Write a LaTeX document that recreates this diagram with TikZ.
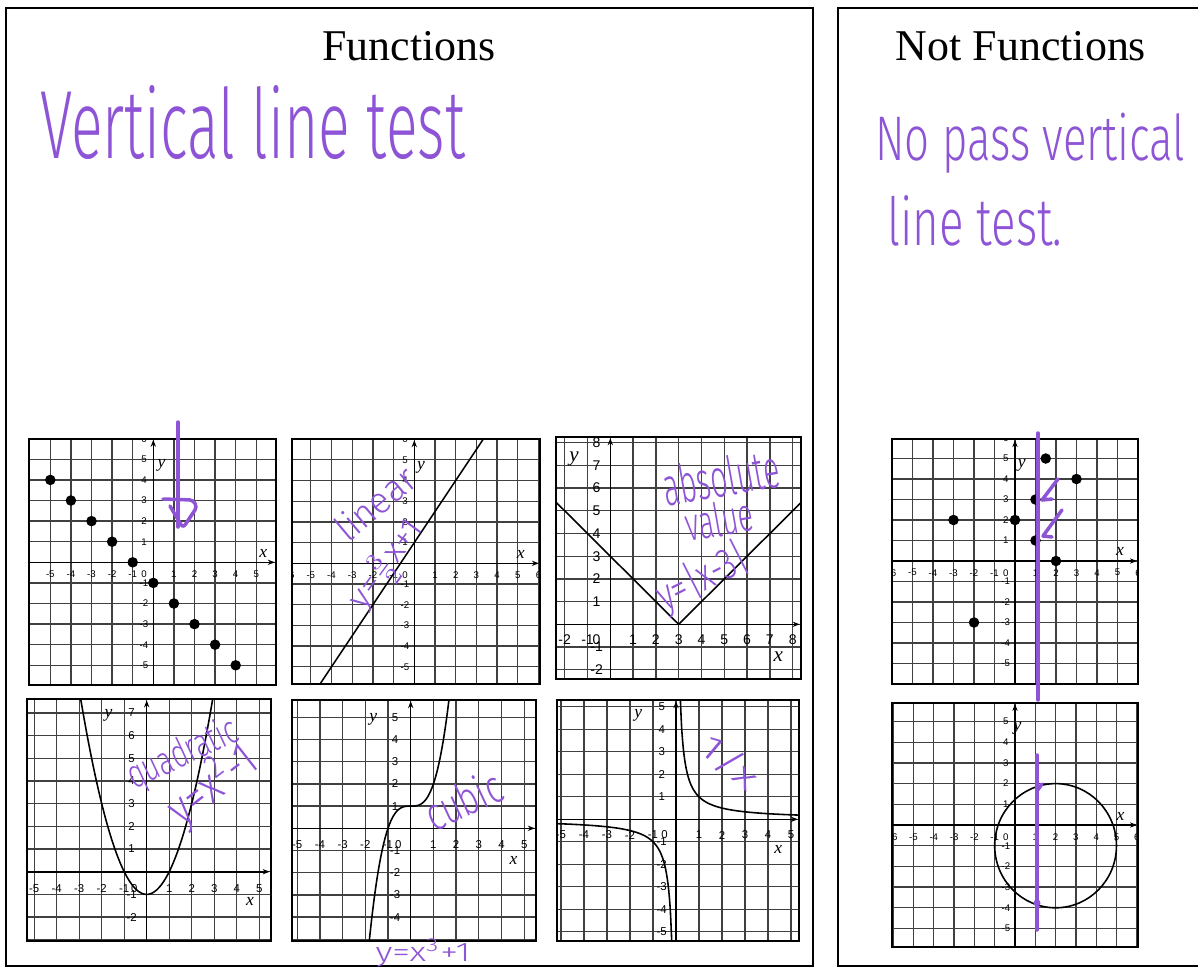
\documentclass[tikz,border=0pt]{standalone}
\usepackage{fontspec}
\usepackage{graphicx}
\setmainfont{Liberation Serif}
\newfontfamily\handfont{Fira Sans Light}
\newfontfamily\tickfont{Liberation Sans}
\usetikzlibrary{arrows.meta}
\definecolor{pen}{RGB}{142,84,214}

% grid of one graph, inside a scope so the clip stays local
\newcommand{\gridpart}[4]{%
  \clip (#1,#3) rectangle (#2,#4);
  \foreach \g in {-9,...,9} {
    \draw[gridline] (\g,#3) -- (\g,#4);
    \draw[gridline] (#1,\g) -- (#2,\g);
  }
}
% axes and frame of one graph
\newcommand{\framepart}[4]{%
  \draw[axisline] (#1,0) -- ({#2-0.05},0);
  \draw[axisline] (0,#3) -- (0,{#4-0.05});
  \draw[frame] (#1,#3) rectangle (#2,#4);
}

\begin{document}
\begin{tikzpicture}[
    x=0.02cm, y=-0.02cm,
    panel/.style={line width=0.9pt},
    frame/.style={line width=1pt},
    gridline/.style={black!75, line width=0.75pt},
    axisline/.style={-{Stealth[length=4pt]}, line width=0.9pt},
    curve/.style={line width=0.9pt},
    dot/.style={circle, fill=black, inner sep=0pt, minimum size=6pt},
    tick/.style={font=\tickfont\fontsize{5.5}{6}\selectfont, inner sep=0pt},
    midtick/.style={font=\tickfont\fontsize{6.5}{7}\selectfont, inner sep=0pt},
    bigtick/.style={font=\tickfont\fontsize{8}{9}\selectfont, inner sep=0pt},
    axlab/.style={font=\itshape\fontsize{10}{11}\selectfont, inner sep=0pt},
    bigaxlab/.style={font=\itshape\fontsize{12}{13}\selectfont, inner sep=0pt},
    title/.style={font=\fontsize{25}{28}\selectfont, anchor=base, inner sep=0pt},
    hand/.style={text=pen, font=\handfont, inner sep=0pt},
    ink/.style={pen, line width=2pt, line cap=round, line join=round}
]
\useasboundingbox (0,0) rectangle (1198,968);

% the two panels
\draw[panel] (6,8) rectangle (813,966);
\draw[panel] (1198,8) -- (838,8) -- (838,966) -- (1198,966);

\node[title] (functions) at (409,60) {Functions};
\node[title] (notfunctions) at (1021,60) {Not Functions};

% handwritten notes
\node[hand, anchor=base west] (vlt) at (40,158) {\resizebox{8.5cm}{1.46cm}{Vertical line test}};
\node[hand, anchor=base west] (nopass) at (875,160) {\resizebox{6.2cm}{0.95cm}{No pass vertical}};
\node[hand, anchor=base west] (linetest) at (887,245) {\resizebox{3.5cm}{1cm}{line test.}};

% graph 1: points on y=-x-1
\begin{scope}[shift={(153.3,562.3)}, x=0.412cm, y=0.412cm]
  \begin{scope}
    \gridpart{-6.05}{5.95}{-5.95}{6}
    \foreach \i in {-5,-4,-3,-2,-1,1,2,3,4,5} \node[tick] (gax\i) at (\i,-0.57) {\i};
    \foreach \j in {-5,-4,-3,-2,-1,1,2,3,4,5,6} \node[tick] (gay\j) at (-0.45,\j) {\j};
    \node[tick] (gaz) at (-0.45,-0.57) {0};
  \end{scope}
  \framepart{-6.05}{5.95}{-5.95}{6}
  \node[axlab] (gaxl) at (5.34,0.44) {x};
  \node[axlab] (gayl) at (0.4,4.72) {y};
  \foreach \px [count=\k] in {-5,...,4} \node[dot] (gadot\k) at (\px,{-\px-1}) {};
\end{scope}
\draw[ink] (178,422) -- (178,527);
\draw[ink, rounded corners=2pt] (163,499) -- (193,500) -- (197,507) -- (183,528) -- (170,506);

% graph 2: linear
\begin{scope}[shift={(414.3,563.3)}, x=0.414cm, y=0.414cm]
  \begin{scope}
    \gridpart{-5.9}{6.07}{-5.83}{6}
    \foreach \i in {-6,-5,-4,-3,-2,-1,1,2,3,4,5,6} \node[tick] (gbx\i) at (\i,-0.57) {\i};
    \foreach \j in {-5,-4,-3,-2,-1,1,2,3,4,5,6} \node[tick] (gby\j) at (-0.45,\j) {\j};
    \node[tick] (gbz) at (-0.45,-0.57) {0};
    \draw[curve] (-4.667,-6) -- (3.333,6);
  \end{scope}
  \framepart{-5.9}{6.07}{-5.83}{6}
  \node[axlab] (gbxl) at (5.14,0.45) {x};
  \node[axlab] (gbyl) at (0.32,4.64) {y};
\end{scope}
\node[hand, rotate=40] (linear) at (375,503) {\resizebox{1.86cm}{0.56cm}{linear}};
\node[hand, rotate=54] (lineq) at (387,565) {\resizebox{2.06cm}{0.55cm}{y=$\frac{3}{2}$x+1}};

% graph 3: absolute value
\begin{scope}[shift={(610.3,624.3)}, x=0.456cm, y=0.454cm]
  \begin{scope}
    \gridpart{-2.38}{8.36}{-2.4}{8.25}
    \foreach \i in {-2,-1,1,2,3,4,5,6,7,8} \node[bigtick] (gcx\i) at (\i,-0.68) {\i};
    \foreach \j in {-2,-1,1,2,3,4,5,6,7,8} \node[bigtick] (gcy\j) at (-0.6,\j) {\j};
    \node[bigtick] (gcz) at (-0.6,-0.68) {0};
    \draw[curve] (-2.5,5.5) -- (3,0) -- (8.5,5.5);
  \end{scope}
  \framepart{-2.38}{8.36}{-2.4}{8.25}
  \node[bigaxlab] (gcxl) at (7.37,-1.43) {x};
  \node[bigaxlab] (gcyl) at (-1.59,7.27) {y};
\end{scope}
\node[hand, rotate=10] (absolute) at (721,477) {\resizebox{2.34cm}{0.8cm}{absolute}};
\node[hand, rotate=10] (value) at (719,519) {\resizebox{1.36cm}{0.7cm}{value}};
\node[hand, rotate=27] (abseq) at (703,578) {\resizebox{1.96cm}{0.7cm}{y=|x-3|}};

% graph 4: quadratic
\begin{scope}[shift={(146.7,871.7)}, x=0.45cm, y=0.454cm]
  \begin{scope}
    \gridpart{-5.32}{5.52}{-3.05}{7.6}
    \foreach \i in {-5,-4,-3,-2,-1,1,2,3,4,5} \node[midtick] (gdx\i) at (\i,-0.73) {\i};
    \foreach \j in {-2,-1,1,2,3,4,5,6,7} \node[midtick] (gdy\j) at (-0.67,\j) {\j};
    \node[midtick] (gdz) at (-0.55,-0.73) {0};
    \draw[curve] plot[domain=-2.95:2.95, samples=60, smooth] (\x,{\x*\x-1});
  \end{scope}
  \framepart{-5.32}{5.52}{-3.05}{7.6}
  \node[axlab] (gdxl) at (4.59,-1.32) {x};
  \node[axlab] (gdyl) at (-1.7,6.9) {y};
\end{scope}
\node[hand, rotate=25] (quadratic) at (183,755) {\resizebox{2.36cm}{0.6cm}{quadratic}};
\node[hand, rotate=38] (quadeq) at (213,785) {\resizebox{2cm}{0.8cm}{y=x\textsuperscript{2}-1}};

% graph 5: cubic
\begin{scope}[shift={(410.7,828.3)}, x=0.454cm, y=0.444cm]
  \begin{scope}
    \gridpart{-5.22}{5.52}{-5.08}{5.78}
    \foreach \i in {-5,-4,-3,-2,-1,1,2,3,4,5} \node[midtick] (gex\i) at (\i,-0.72) {\i};
    \foreach \j in {-4,-3,-2,-1,1,2,3,4,5} \node[midtick] (gey\j) at (-0.69,\j) {\j};
    \node[midtick] (gez) at (-0.55,-0.72) {0};
    \draw[curve] plot[domain=-1.85:1.72, samples=60, smooth] (\x,{\x*\x*\x+1});
  \end{scope}
  \framepart{-5.22}{5.52}{-5.08}{5.78}
  \node[axlab] (gexl) at (4.53,-1.43) {x};
  \node[axlab] (geyl) at (-1.65,4.9) {y};
\end{scope}
\node[hand, rotate=25] (cubic) at (463,800) {\resizebox{1.6cm}{0.7cm}{cubic}};
\node[hand] (cubeq) at (423,953) {\resizebox{1.9cm}{0.45cm}{y=x\textsuperscript{3}+1}};

% graph 6: reciprocal
\begin{scope}[shift={(676,819.3)}, x=0.46cm, y=0.45cm]
  \begin{scope}
    \gridpart{-5.17}{5.35}{-5.4}{5.3}
    \foreach \i in {-5,-4,-3,-2,-1,1,2,3,4,5} \node[midtick] (gfx\i) at (\i,-0.7) {\i};
    \foreach \j in {-5,-4,-3,-2,-1,1,2,3,4,5} \node[midtick] (gfy\j) at (-0.62,\j) {\j};
    \node[midtick] (gfz) at (-0.5,-0.7) {0};
    \draw[curve] plot[domain=0.18:5.4, samples=80, smooth] (\x,{1/\x});
    \draw[curve] plot[domain=-5.4:-0.18, samples=80, smooth] (\x,{1/\x});
  \end{scope}
  \framepart{-5.17}{5.35}{-5.4}{5.3}
  \node[axlab] (gfxl) at (4.45,-1.36) {x};
  \node[axlab] (gfyl) at (-1.64,4.64) {y};
\end{scope}
\node[hand, rotate=-40] (recip) at (730,762) {\resizebox{1.3cm}{0.55cm}{1/x}};

% graph 7: relation, not a function
\begin{scope}[shift={(1015,561)}, x=0.41cm, y=0.41cm]
  \begin{scope}
    \gridpart{-6}{6}{-6}{5.95}
    \foreach \i in {-6,-5,-4,-3,-2,-1,1,2,3,4,5,6} \node[tick] (ggx\i) at (\i,-0.57) {\i};
    \foreach \j in {-5,-4,-3,-2,-1,1,2,3,4,5,6} \node[tick] (ggy\j) at (-0.45,\j) {\j};
    \node[tick] (ggz) at (-0.45,-0.57) {0};
  \end{scope}
  \framepart{-6}{6}{-6}{5.95}
  \node[axlab] (ggxl) at (5.12,0.45) {x};
  \node[axlab] (ggyl) at (0.33,4.68) {y};
  \foreach \px/\py [count=\k] in {-3/2,-2/-3,0/2,1/3,1/1,1.5/5,2/0,3/4}
    \node[dot] (ggdot\k) at (\px,\py) {};
\end{scope}
\draw[ink] (1038,433) -- (1038,700);
\draw[ink] (1058,479) -- (1042,500) -- (1052,499);
\draw[ink] (1062,510) -- (1043,536) -- (1052,537);

% graph 8: circle
\begin{scope}[shift={(1015,825)}, x=0.406cm, y=0.414cm]
  \begin{scope}
    \gridpart{-6.06}{6.06}{-5.9}{5.9}
    \foreach \i in {-6,-5,-4,-3,-2,-1,1,2,3,4,5,6} \node[tick] (ghx\i) at (\i,-0.57) {\i};
    \foreach \j in {-5,-4,-3,-2,-1,1,2,3,4,5,6} \node[tick] (ghy\j) at (-0.45,\j) {\j};
    \node[tick] (ghz) at (-0.45,-0.57) {0};
  \end{scope}
  \framepart{-6.06}{6.06}{-5.9}{5.9}
  \node[axlab] (ghxl) at (5.2,0.43) {x};
  \node[axlab] (ghyl) at (0.13,4.67) {y};
  \draw[curve] (2,-1) circle[radius=3];
\end{scope}
\draw[ink] (1037,755) -- (1037,930);
\draw[ink] (1037,791) -- (1042,784);
\fill[pen] (1037,903) circle (3.5);

\end{tikzpicture}
\end{document}
